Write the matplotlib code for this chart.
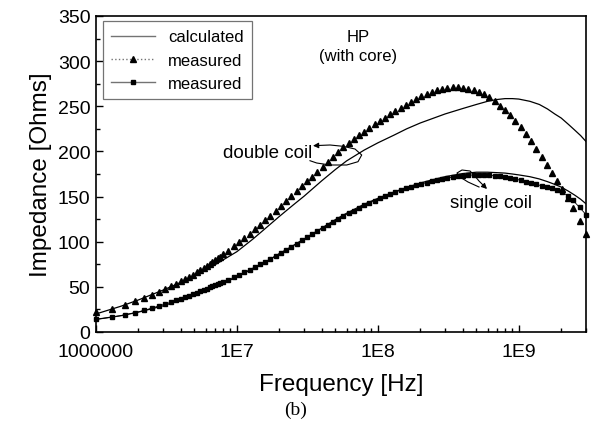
import matplotlib
matplotlib.use('Agg')
from matplotlib import pyplot as plt
from matplotlib.lines import Line2D
from matplotlib.ticker import LogLocator, MultipleLocator, FixedLocator, FixedFormatter, NullFormatter

plt.rcParams['font.family'] = ['Liberation Sans', 'DejaVu Sans']

# measured sweep points (MHz)
freq_meas_mhz = [1.0, 1.3, 1.6, 1.9, 2.2, 2.5, 2.8, 3.1, 3.4, 3.7, 4.0, 4.3,
                 4.6, 4.9, 5.2, 5.5, 5.8, 6.1, 6.4, 6.7, 7.0, 7.3, 7.6,
                 8.0, 8.7, 9.5, 10.3, 11.3, 12.3, 13.4, 14.6, 15.9, 17.3,
                 18.8, 20.5, 22.3, 24.3, 26.5, 28.8, 31.4, 34.2, 37.2, 40.5,
                 44.1, 48.0, 52.3, 57.0, 62.0, 67.5, 73.5, 80.1, 87.2, 95.0,
                 103, 112, 122, 133, 145, 158, 172, 187, 204, 222,
                 242, 263, 287, 312, 340, 370, 403, 439, 478, 521,
                 567, 618, 673, 732, 798, 869, 946, 1030, 1120, 1220,
                 1330, 1450, 1580, 1720, 1870, 2040, 2220, 2420, 2700, 3000]

meas_double = [22, 26, 30, 34, 37.5, 41, 44.5, 47.5, 50.5, 53.5, 56, 58.5,
               61, 63.5, 66, 68.5, 71, 73, 75.5, 77.5, 79.5, 81.5, 83.5,
               86, 90, 95, 99.5, 104, 109, 114, 119, 124, 129,
               134.5, 140, 145, 150.5, 156, 161.5, 167, 172, 177.5, 183,
               188, 194, 199.5, 204.5, 209, 213.5, 218, 222, 226, 230,
               234, 237.5, 241, 244.5, 248, 251.5, 255, 258, 261, 263.5,
               266, 268, 269.5, 270.5, 271, 271, 270.5, 269.5, 268, 266,
               263.5, 260, 255.5, 250.5, 246, 240.5, 234, 227, 219.5, 211,
               202.5, 194, 185, 176, 167, 158, 148, 137, 123, 109]

meas_single = [14, 16.5, 19, 21.5, 24, 26.5, 29, 31, 33, 35, 37, 38.5,
               40, 42, 43.5, 45, 46.5, 48, 49.5, 50.5, 52, 53, 54,
               55.5, 58, 60.5, 63, 66, 69, 72, 75, 78, 81,
               84.5, 88, 91, 94.5, 98, 101.5, 105, 108.5, 112, 115.5,
               119, 122, 125.5, 128.5, 131.5, 134.5, 137.5, 140.5, 143, 145.5,
               148, 150.5, 152.5, 155, 157, 159, 161, 162.5, 164, 165.5,
               167, 168.5, 169.5, 170.5, 171.5, 172.5, 173, 173.5, 174, 174,
               174, 173.5, 173, 172.5, 171.5, 170.5, 169.5, 168, 166.5, 165,
               163.5, 162, 160.5, 159, 157, 155, 151, 146, 138, 130]

# calculated curves (MHz)
freq_calc_mhz = [1, 1.5, 2, 3, 4, 5, 7, 10, 13, 16, 20, 25, 30, 40, 50, 60, 80,
                 100, 130, 160, 200, 250, 300, 400, 500, 600, 700, 800, 900,
                 1000, 1200, 1400, 1600, 1800, 2000, 2250, 2500, 2750, 3000]
calc_double = [20, 28.5, 35.5, 46.5, 55, 62, 74.5, 89, 103, 115, 128, 140.5,
               150.5, 167.5, 180, 189.5, 201.5, 209.5, 218, 225, 231.5, 237,
               241.5, 247.5, 252, 255.5, 257.5, 258.5, 258.5, 258, 255.5, 252,
               247, 241.5, 237, 230, 223.5, 217.5, 211]
calc_single = [14, 18, 22, 29, 35.5, 41, 50, 61, 70, 77.5, 86.5, 95.5, 103,
               115, 124.5, 131.5, 141.5, 148, 155, 160, 165, 169, 172, 175.5,
               177, 177, 176.5, 176, 175, 174, 172, 169.5, 166.5, 163.5, 160.5,
               156, 151.5, 147, 142]

x_ticks = [1e6, 1e7, 1e8, 1e9]
x_ticklabels = ['1000000', '1E7', '1E8', '1E9']

f_meas = [f * 1e6 for f in freq_meas_mhz]
f_calc = [f * 1e6 for f in freq_calc_mhz]

fig = plt.figure(figsize=(5.91, 4.27), dpi=100)
ax = fig.add_axes([96 / 591, 94 / 427, 490 / 591, 316 / 427])

ax.plot(f_calc, calc_double, '-', color='k', lw=0.9)
ax.plot(f_calc, calc_single, '-', color='k', lw=0.9)
ax.plot(f_meas, meas_double, linestyle='none', marker='^', color='k', ms=4.0, clip_on=False)
ax.plot(f_meas, meas_single, '-', marker='s', color='k', lw=0.6, ms=2.9, clip_on=False)

ax.set_xscale('log')
ax.set_xlim(1e6, 3e9)
ax.set_ylim(0, 350)
ax.xaxis.set_major_locator(FixedLocator(x_ticks))
ax.xaxis.set_major_formatter(FixedFormatter(x_ticklabels))
ax.xaxis.set_minor_locator(LogLocator(base=10, subs=range(2, 10)))
ax.xaxis.set_minor_formatter(NullFormatter())
ax.yaxis.set_major_locator(MultipleLocator(50))
ax.yaxis.set_minor_locator(MultipleLocator(25))
ax.tick_params(which='both', direction='in', top=False, right=False, labelsize=14)
ax.tick_params(axis='x', pad=8)
ax.tick_params(axis='y', pad=4)
ax.tick_params(which='major', length=5, width=1)
ax.tick_params(which='minor', length=3, width=1)
for s in ax.spines.values():
    s.set_linewidth(1.2)

ax.set_xlabel('Frequency [Hz]', fontsize=17.5, labelpad=9)
ax.set_ylabel('Impedance [Ohms]', fontsize=17.5, labelpad=4)

handles = [Line2D([], [], color='0.45', lw=1),
           Line2D([], [], color='0.45', lw=1, ls=':', marker='^', ms=4, mfc='k', mec='k'),
           Line2D([], [], color='0.45', lw=1, marker='s', ms=3, mfc='k', mec='k')]
leg = ax.legend(handles, ['calculated', 'measured', 'measured'], loc='upper left',
                bbox_to_anchor=(0.014, 0.984), borderaxespad=0, fontsize=12,
                handlelength=2.6, labelspacing=0.5, borderpad=0.5,
                fancybox=False, framealpha=1)
leg.get_frame().set_edgecolor('0.45')
leg.get_frame().set_linewidth(0.9)

ax.text(0.535, 0.905, 'HP\n(with core)', transform=ax.transAxes, ha='center',
        va='center', fontsize=12, linespacing=1.35)


def px(x, y):
    return ((x - 96) / 490, (333 - y) / 316)


ax.text(*px(268, 154), 'double coil', transform=ax.transAxes, ha='center', va='center', fontsize=13.5)
ax.text(*px(491, 204), 'single coil', transform=ax.transAxes, ha='center', va='center', fontsize=13.5)

loop1 = [px(310, 161.7), px(316.7, 164), px(330, 166), px(346.7, 166), px(358, 162.7),
         px(361.7, 156), px(355, 150), px(343, 147.3), px(330, 146), px(318, 146.5)]
loop2 = [px(479, 188), px(468, 183), px(460, 178), px(457, 174), px(462, 171),
         px(470, 172), px(474, 176), px(479, 182), px(484, 187)]
for loop, tip in [(loop1, px(313, 146.7)), (loop2, px(487, 190))]:
    ax.plot([p[0] for p in loop], [p[1] for p in loop], color='k', lw=0.8, transform=ax.transAxes)
    ax.annotate('', xy=tip, xytext=loop[-1], xycoords='axes fraction',
                arrowprops=dict(arrowstyle='-|>', color='k', lw=0.8, mutation_scale=8,
                                shrinkA=0, shrinkB=0))

fig.text(296 / 591, 1 - 410 / 427, '(b)', ha='center', va='center', fontsize=14,
         family=['Liberation Serif', 'DejaVu Serif'])

fig.savefig('out.png', dpi=100)
